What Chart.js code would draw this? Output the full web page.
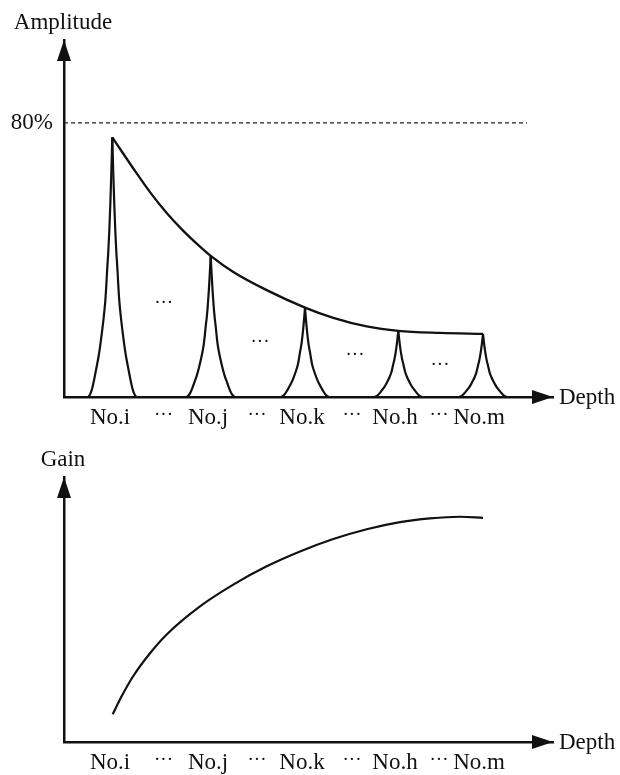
<!DOCTYPE html>
<html>
<head>
<meta charset="utf-8">
<script src="https://cdn.jsdelivr.net/npm/chart.js@4.4.1/dist/chart.umd.min.js"></script>
<style>
  body{margin:0;background:#fff;}
  canvas{position:absolute;left:0;}
  #ampChart{top:0;}
  #gainChart{top:440px;}
</style>
</head>
<body>
<canvas id="ampChart" width="620" height="440"></canvas>
<canvas id="gainChart" width="620" height="335"></canvas>
<script>
// depth axis labels (shared by both panels)
const tickDepths = [46, 99.5, 144, 193, 238, 288, 331, 375, 415];
const tickLabels = ["No.i", "···", "No.j", "···", "No.k", "···", "No.h", "···", "No.m"];

// echo peaks: centre depth and height (% amplitude)
const peakCenters = [48.3, 146.7, 241, 334.3, 419];
const peakHeights = [75.8, 41.2, 26.1, 19.3, 18.4];
// shape of one peak, read off No.i: distance from centre -> fraction of peak height
const profileOffsets = [0, 1, 2, 3, 4, 5, 6, 7, 8.5, 10, 12, 14, 16, 18, 20, 22, 24];
const profileLevels  = [1, .86, .74, .64, .56, .5, .43, .37, .31, .26, .2, .15, .11, .07, .035, .012, 0];

// envelope through the peak tops
const envDepth = [48.3, 69.3, 86, 102.7, 119.3, 136, 146.7, 169.3, 202.7, 241, 269.3, 302.7, 334.3, 376, 419];
const envAmp   = [75.8, 66.7, 59.8, 53.7, 48.5, 43.9, 41.2, 36.5, 31.2, 26.1, 23.1, 20.6, 19.3, 18.7, 18.4];

// 80% reference line
const refDepth = [0, 463];
const refAmp   = [80, 80];

// "···" marks between the peaks
const dotDepth = [99.7, 196, 291, 376];
const dotAmp   = [27.4, 15.9, 12.0, 9.1];

// gain curve
const gainDepth = [48.7, 58.3, 69.3, 86, 102.7, 136, 169.3, 202.7, 236, 269.3, 302.7, 336, 366, 396, 419];
const gainVal   = [10.5, 17.7, 24.9, 33.5, 40.6, 51.2, 59.4, 66.3, 71.9, 76.6, 80.3, 83.0, 84.4, 85.0, 84.6];

const SERIF = "'Liberation Serif', 'Times New Roman', serif";
const INK = "#111";

// each peak as two halves so the top stays a sharp cusp
const peakSets = [];
peakCenters.forEach((c, k) => {
  const left = profileOffsets.map((d, i) => ({x: c - d, y: peakHeights[k] * profileLevels[i]})).reverse();
  const right = profileOffsets.map((d, i) => ({x: c + d, y: peakHeights[k] * profileLevels[i]}));
  [left, right].forEach(half => peakSets.push({data: half, borderColor: INK, borderWidth: 2.2, cubicInterpolationMode: "monotone", clip: false}));
});

const arrows = {
  id: "arrows",
  afterDraw(chart, args, o) {
    const {ctx} = chart, a = chart.chartArea;
    ctx.save();
    ctx.fillStyle = INK;
    ctx.beginPath();
    ctx.moveTo(a.left, a.top); ctx.lineTo(a.left - 7, a.top + 21); ctx.lineTo(a.left + 7, a.top + 21);
    ctx.closePath(); ctx.fill();
    ctx.beginPath();
    ctx.moveTo(a.right, a.bottom); ctx.lineTo(a.right - 21, a.bottom - 7); ctx.lineTo(a.right - 21, a.bottom + 7);
    ctx.closePath(); ctx.fill();
    ctx.font = "23px " + SERIF;
    ctx.textBaseline = "alphabetic";
    ctx.textAlign = "center";
    ctx.fillText(o.yTitle, a.left - 1, a.top - 11);
    ctx.textAlign = "left";
    ctx.fillText("Depth", a.right + 6, a.bottom + 7);
    if (o.dots) {
      ctx.font = "19px " + SERIF;
      ctx.textAlign = "center";
      const sx = chart.scales.x, sy = chart.scales.y;
      dotDepth.forEach((d, i) => ctx.fillText("···", sx.getPixelForValue(d), sy.getPixelForValue(dotAmp[i]) + 4.4));
    }
    ctx.restore();
  }
};

const xScale = h => ({
  type: "linear", min: 0, max: 489,
  grid: {display: false, drawTicks: false},
  border: {color: INK, width: 2.5},
  afterBuildTicks: s => { s.ticks = tickDepths.map(v => ({value: v})); },
  afterFit: s => { s.height = h; },
  ticks: {
    autoSkip: false, maxRotation: 0, padding: 7, color: INK,
    callback: (v, i) => tickLabels[i],
    font: ctx => ({family: SERIF, size: tickLabels[ctx.index] === "···" ? 19 : 23})
  }
});

Chart.defaults.animation = false;
Chart.defaults.events = [];

new Chart(document.getElementById("ampChart"), {
  type: "line",
  data: {datasets: [
    ...peakSets,
    {data: envDepth.map((x, i) => ({x, y: envAmp[i]})), borderColor: INK, borderWidth: 2.3, cubicInterpolationMode: "monotone", clip: false},
    {data: refDepth.map((x, i) => ({x, y: refAmp[i]})), borderColor: "#222", borderWidth: 1.3, borderDash: [4, 3]}
  ]},
  options: {
    responsive: false,
    layout: {padding: {top: 40, right: 67, left: 0, bottom: 0}},
    elements: {point: {radius: 0}},
    plugins: {legend: {display: false}, tooltip: {enabled: false}, arrows: {yTitle: "Amplitude", dots: true}},
    scales: {
      x: xScale(43),
      y: {
        min: 0, max: 104.2,
        grid: {display: false, drawTicks: false},
        border: {color: INK, width: 2.5},
        afterBuildTicks: s => { s.ticks = [{value: 80}]; },
        afterFit: s => { s.width = 64; },
        ticks: {padding: 11, color: INK, font: {family: SERIF, size: 23}, callback: v => v + "%"}
      }
    }
  },
  plugins: [arrows]
});

new Chart(document.getElementById("gainChart"), {
  type: "line",
  data: {datasets: [
    {data: gainDepth.map((x, i) => ({x, y: gainVal[i]})), borderColor: INK, borderWidth: 2.2, cubicInterpolationMode: "monotone"}
  ]},
  options: {
    responsive: false,
    layout: {padding: {top: 37, right: 67, left: 0, bottom: 0}},
    elements: {point: {radius: 0}},
    plugins: {legend: {display: false}, tooltip: {enabled: false}, arrows: {yTitle: "Gain", dots: false}},
    scales: {
      x: xScale(33),
      y: {
        min: 0, max: 100,
        grid: {display: false, drawTicks: false},
        border: {color: INK, width: 2.5},
        afterBuildTicks: s => { s.ticks = []; },
        afterFit: s => { s.width = 64; },
        ticks: {display: false}
      }
    }
  },
  plugins: [arrows]
});
</script>
</body>
</html>
